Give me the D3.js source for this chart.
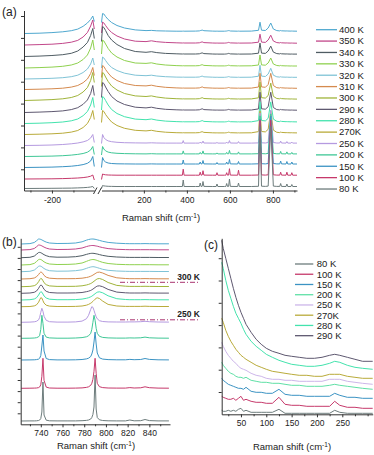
<!DOCTYPE html>
<html><head><meta charset="utf-8">
<script src="https://cdn.jsdelivr.net/npm/d3@7"></script>
<style>
body{margin:0;background:#fff}
svg{display:block}
text{font-family:"Liberation Sans",Arial,sans-serif;fill:#222}
</style>
</head><body>
<svg id="chart" width="374" height="455"></svg>
<script>
// ================= DATA =================
const temps  = ["400 K","350 K","340 K","330 K","320 K","310 K","300 K","290 K","280 K","270K","250 K","200 K","150 K","100 K","80 K"];
const colors = ["#4fa8cf","#c2478a","#4f5c63","#8fd14f","#7fc3d6","#d58a4e","#a0b43a","#5e5870","#43e3ad","#b9ab3a","#b59ae0","#3fc796","#3b93c3","#c6396b","#6d7c7c"];

// panel (a): anti-Stokes side and Stokes side (cm-1)
const aShiftL = [-330,-260,-200,-150,-110,-80,-55,-35,-20,-10,-3];
const aShiftR = [3,8,14,22,34,50,75,110,160,210,235,260,300,350,379,383,387,440,458,462,466,471,475,479,520,536,540,544,575,581,585,589,594,598,602,636,640,644,700,733,740,747,765,778,790,802,818,832,836,840,861,865,869,884,888,892,912];
const aOffsets = [157,145.5,134,122.5,111.5,101,90,78,67,56,45,34,23,11.5,2];
const aLeft = [
 [0,0.3,0.9,1.7,2.8,4.4,7.2,10.5,14,17.5,12],
 [0,0.4,0.8,1.6,2.8,4.6,8,12.5,19,25,16],
 [0,0.4,1,1.8,3.2,5.5,9.5,14,21,28,18],
 [0,0.4,0.9,1.7,3,5,8.5,13,20,28,18],
 [0,0.3,0.7,1.3,2.3,3.8,6.5,10,15,21,14],
 [0,0.3,0.7,1.3,2.4,4,6.8,10.5,16,22,14],
 [0,0.4,0.9,1.7,3,5,8.5,13,20,28,18],
 [0,0.4,0.9,1.6,2.9,4.8,8.2,12.5,19,27,17],
 [0,0.3,0.8,1.5,2.7,4.5,7.8,12,18.5,26,16],
 [0,0.3,0.7,1.3,2.4,4,7,11,17,24,15],
 [0,0.2,0.5,1,1.7,2.5,3.6,5,7.5,11,3],
 [0,0.2,0.4,0.8,1.4,2.1,3,4.3,6.5,10,2],
 [0,0.2,0.4,0.8,1.3,2,2.9,4.2,6.5,11,1],
 [0,0.1,0.2,0.4,0.7,1,1.4,2,2.8,4,-1],
 [0,0.1,0.2,0.3,0.4,0.6,0.8,1.1,1.5,2,0]
];
const aRight = [
 [11,20,19.5,17,14,11,8,5.5,3.6,2.9,3.1,2.7,2.5,2.3, 2.3,2.4,2.3,2.4,2.6,2.9,3.1,3.4,3.2,2.8,2.4, 2.3,2.4,2.3,2.3,2.4,2.5,2.7,2.9,2.8,2.5,2.3,2.4,2.3, 2.4,3.2,11.3,3.3,3,5.5,10.5,4.5,2.9, 2.6,3,2.7,2.5,2.6,2.5,2.4,2.5,2.4,2.3],
 [12,23,22,19.5,16,12.5,9,6,3.8,3.4,4.2,3.3,2.6,2.2, 2,2.1,2,2,2.2,2.5,2.8,3.1,2.8,2.4,2, 1.9,2,1.9,1.9,2,2.1,2.3,2.6,2.4,2.1,1.9,2,1.9, 2,2.8,10.8,2.9,2.6,5,9.8,4,2.4, 2.1,2.5,2.2,2,2.1,2,1.9,2,1.9,1.8],
 [15,30,29,26,21,16.5,12,8,5,4.2,4.8,3.9,3.1,2.7, 2.5,2.6,2.5,2.5,2.7,3,3.3,3.6,3.3,2.9,2.5, 2.4,2.5,2.4,2.4,2.5,2.6,2.8,3.1,2.9,2.6,2.4,2.5,2.4, 2.5,3.3,13.4,3.4,3.1,5.5,10.4,4.4,2.9, 2.6,3,2.7,2.5,2.6,2.5,2.4,2.5,2.4,2.4],
 [14,28,27,24,19.5,15,11,7.5,5,4.6,5.2,4,3,2.4, 2.2,2.3,2.2,2.2,2.4,2.7,3,3.3,3,2.6,2.2, 2.1,2.2,2.1,2.1,2.2,2.3,2.5,2.8,2.6,2.3,2.1,2.2,2.1, 2.2,3,13,3.1,2.8,5,10,4,2.5, 2.2,2.6,2.3,2.1,2.2,2.1,2,2.1,2,2],
 [11,22,21,18.5,15,11.5,8.5,5.8,3.8,3.3,3.8,3,2.3,1.9, 1.8,1.9,1.8,1.8,2,2.3,2.6,2.9,2.6,2.2,1.8, 1.7,1.8,1.7,1.7,1.8,1.9,2.1,2.4,2.2,1.9,1.7,1.8,1.7, 1.8,2.8,13.7,2.9,2.5,5,10.7,3.8,2.2, 1.9,2.3,2,1.8,1.9,1.8,1.7,1.8,1.7,1.7],
 [12,24,23,20,16.5,12.5,9,6,4,3.6,4.3,3.2,2.2,1.6, 1.4,1.5,1.4,1.4,1.6,1.9,2.2,2.6,2.3,1.8,1.4, 1.3,1.4,1.3,1.3,1.4,1.5,1.7,2,1.8,1.5,1.3,1.4,1.3, 1.4,2.5,16.2,2.6,2.2,5,16.2,4,1.8, 1.5,2,1.7,1.4,1.5,1.4,1.3,1.4,1.3,1.2],
 [14,28,27,23.5,19,14.5,10.5,7,4.6,4,4.6,3.5,2.4,1.8, 1.6,1.7,1.6,1.6,1.8,2.1,2.4,2.8,2.5,2,1.6, 1.5,1.6,1.5,1.5,1.6,1.7,1.9,2.2,2,1.7,1.5,1.6,1.5, 1.6,2.7,18.4,2.8,2.4,5,17.4,4.2,2, 1.7,2.2,1.9,1.6,1.7,1.6,1.5,1.6,1.5,1.4],
 [15,30,29,25.5,21,16,11.5,8,5.3,4.6,5.3,4.2,3.2,2.7, 2.5,2.6,2.5,2.5,2.7,3,3.3,3.7,3.4,2.9,2.5, 2.4,2.5,2.4,2.4,2.5,2.6,2.8,3.1,2.9,2.6,2.4,2.5,2.4, 2.5,3.6,20.3,3.7,3.3,5.8,20.3,5,2.9, 2.6,3.1,2.8,2.5,2.6,2.5,2.4,2.5,2.4,2.3],
 [13.5,27,26,23,18.5,14,10,6.8,4.4,3.8,4.5,3.4,2.4,1.9, 1.7,1.8,1.7,1.7,1.9,2.2,2.5,2.9,2.6,2.1,1.7, 1.6,1.7,1.6,1.6,1.7,1.8,2,2.3,2.1,1.8,1.6,1.7,1.6, 1.7,2.9,21.6,3,2.6,5.2,21.6,4.4,2.2, 1.9,2.4,2.1,1.8,1.9,1.8,1.7,1.8,1.7,1.6],
 [12,24,23,20,16.5,12.5,9,6.2,4.2,3.6,4.2,3.2,2.3,1.8, 1.7,1.8,1.7,1.7,1.9,2.2,2.5,2.8,2.5,2.1,1.7, 1.6,1.7,1.6,1.6,1.7,1.8,2,2.3,2.1,1.8,1.6,1.7,1.6, 1.7,2.9,23.6,3,2.6,5.2,23.6,4.4,2.2, 1.9,2.4,2.1,1.8,1.9,1.8,1.7,1.8,1.7,1.6],
 [2,11,8,6,4.6,3.8,3.2,2.8,2.6,2.5,2.7,2.5,2.4,2.4, 2.4,4.9,2.4,2.4,2.4,3.4,2.4,2.6,4.4,2.5,2.4, 2.4,3.2,2.4,2.4,2.4,3.4,2.4,2.5,4.9,2.5,2.4,3.9,2.4, 2.4,2.6,32.4,2.7,2.5,3,35.4,3,2.5, 2.5,4.4,2.5,2.4,3.9,2.4,2.4,3.4,2.4,2.4],
 [1.5,10,7.5,5.6,4.4,3.7,3.2,2.9,2.7,2.6,2.8,2.6,2.6,2.6, 2.6,5.6,2.6,2.6,2.6,4.1,2.6,2.8,5.6,2.7,2.6, 2.6,3.6,2.6,2.6,2.6,4.1,2.6,2.7,6.1,2.7,2.6,4.6,2.6, 2.6,2.8,40.6,2.9,2.7,3.1,42.6,3.1,2.7, 2.7,5.1,2.7,2.6,4.6,2.6,2.6,4.1,2.6,2.6],
 [0,10,7,5.5,4.5,4,3.7,3.6,3.5,3.5,3.6,3.5,3.5,3.5, 3.5,7.5,3.5,3.5,3.5,5.5,3.5,3.7,7,3.6,3.5, 3.5,5,3.5,3.5,3.5,5.5,3.5,3.6,8,3.6,3.5,6,3.5, 3.5,3.7,48.5,3.8,3.6,4,51.5,4,3.6, 3.6,6.5,3.6,3.5,6,3.5,3.5,5.5,3.5,3.5],
 [-0.5,5,4.5,4.2,4,3.9,3.8,3.8,3.8,3.8,3.8,3.8,3.8,3.8, 3.8,9.8,3.8,3.8,3.8,6.8,3.8,4,8.3,3.9,3.8, 3.8,6.3,3.8,3.8,3.8,6.3,3.8,3.9,10.3,3.9,3.8,8.8,3.8, 3.8,4,58.8,4.1,3.9,4.2,58.8,4.2,3.9, 3.9,6.8,3.9,3.8,6.8,3.8,3.8,6.3,3.8,3.8],
 [0,3,2.6,2.4,2.2,2.1,2,2,2,2,2,2,2,2, 2,8.5,2,2,2,5.5,2,2.2,7,2.1,2, 2,4.5,2,2,2,5,2,2.1,9.5,2.1,2,5.5,2, 2,2.2,62,2.3,2.1,2.4,62,2.4,2.1, 2.1,5,2.1,2,4.5,2,2,4,2,2]
];
const aTicksLeftMajor = [-200], aTicksLeftMinor = [-300,-100];
const aTicksRightMajor = [200,400,600,800], aTicksRightMinor = [100,300,500,700,900];

// panel (b)
const bShift = [722,730,734,736,738,739,740,741,742,743,745,748,755,765,772,778,782,784,786,787,788,789,790,791,792,794,797,802,810,818,822,826,832,836,840,848,858];
const bOffsets = [180.3,174.3,166.6,159.3,152.6,145.3,137.6,131,124.3,117.6,102,86,64.3,36,3.3];
const bInt = [
 [0,0.4,1.5,3.2,5,4.9,4.6,4.1,3.5,2.9,1.9,1,0.5,0.6, 1,2.2,3.8,4.5,4.9,5,5,4.9,4.7,4.5,4.2,3.6,2.7,1.6,0.8,0.4,0.3,0.3,0.3,0.4,0.3,0.2,0.2],
 [0,0.4,1.5,3.2,5,4.9,4.6,4.1,3.5,2.9,1.9,1,0.5,0.6, 1,2,3.4,4,4.4,4.5,4.5,4.4,4.2,4,3.8,3.2,2.4,1.4,0.7,0.4,0.3,0.3,0.3,0.3,0.3,0.2,0.2],
 [0,0.4,1.6,3.4,5.2,5.3,5,4.4,3.7,3,2,1,0.5,0.6, 1,2,3.3,3.9,4.3,4.4,4.4,4.3,4.1,3.9,3.7,3.1,2.3,1.4,0.7,0.4,0.3,0.3,0.3,0.3,0.3,0.2,0.2],
 [0,0.4,1.6,3.4,5.4,5.7,5.5,4.9,4,3.2,2,1,0.5,0.6, 1,2,3.6,4.5,5.2,5.4,5.5,5.4,5.2,4.9,4.5,3.7,2.6,1.5,0.7,0.4,0.3,0.3,0.3,0.3,0.3,0.2,0.2],
 [0,0.4,1.6,3.4,5.4,5.7,5.5,4.9,4,3.2,2,1,0.5,0.6, 1,1.9,3.3,4.1,4.7,4.9,5,4.9,4.7,4.4,4.1,3.4,2.4,1.4,0.7,0.4,0.3,0.3,0.3,0.3,0.3,0.2,0.2],
 [0,0.3,1,2.2,4.5,6,7,6.6,5.2,3.6,1.8,0.8,0.3,0.3, 0.4,0.8,1.5,2,2.8,3.3,3.9,4.6,5.3,6,6.6,6.9,6,3.6,1.2,0.5,0.3,0.3,0.3,0.4,0.3,0.2,0.2],
 [0,0.3,1,2.2,5,7,8.3,7.8,6,4,2,0.8,0.3,0.3, 0.4,0.9,1.7,2.3,3.2,3.8,4.6,5.4,6.3,7.1,7.8,8.2,7.2,4.2,1.3,0.5,0.3,0.3,0.3,0.4,0.3,0.2,0.2],
 [0,0.3,1,2.2,5,7,8.3,7.8,6,4,2,0.8,0.3,0.3, 0.4,0.8,1.6,2.1,2.9,3.5,4.2,5,5.8,6.6,7.2,7.5,6.6,3.9,1.2,0.5,0.3,0.3,0.3,0.4,0.3,0.2,0.2],
 [0,0.3,1,2.2,5,7,8.3,7.8,6,4,2,0.8,0.3,0.3, 0.4,0.9,1.7,2.3,3.2,3.8,4.6,5.4,6.3,7.1,7.8,8.2,7.2,4.2,1.3,0.5,0.3,0.3,0.3,0.4,0.3,0.2,0.2],
 [0,0.2,0.8,1.8,4.5,7,9,8.6,6,3.6,1.5,0.6,0.2,0.2, 0.3,0.7,1.5,2.3,3.5,4.3,5.3,6.4,7.5,8.4,8.9,8.2,5.6,2.3,0.7,0.3,0.3,0.3,0.3,0.5,0.3,0.2,0.2],
 [0,0.2,0.5,1,2.5,5,10,14,11,6,2,0.6,0.2,0.2, 0.4,1.2,3.5,7,13,15.6,15,12,8.5,5.5,3.5,1.6,0.8,0.4,0.3,0.3,0.4,0.4,0.6,1,0.6,0.3,0.2],
 [0,0.1,0.3,0.6,1.5,3,9,23,15,5,1.2,0.4,0.1,0.1, 0.3,0.7,1.5,2.5,5,9,16,23,18,10,5,2,0.9,0.4,0.2,0.2,0.4,0.3,0.5,1.2,0.5,0.2,0.1],
 [0,0.1,0.2,0.4,0.9,1.8,4.5,14,25,9,1.5,0.4,0.1,0.1, 0.2,0.5,1.1,1.8,3.5,6,10,18,28,16,7,2.2,0.9,0.4,0.2,0.2,0.6,0.3,0.5,1.5,0.6,0.2,0.1],
 [0,0.1,0.2,0.3,0.7,1.4,3.5,12,30,8,1.2,0.3,0.1,0.1, 0.2,0.4,0.9,1.5,3,5,9,17,30,15,5,1.6,0.7,0.3,0.2,0.2,0.7,0.3,0.5,1.5,0.6,0.2,0.1],
 [0,0.1,0.1,0.2,0.5,1,2.5,9,39,6,0.8,0.2,0.1,0.1, 0.1,0.3,0.6,1,2,3.5,6.5,14,46,12,3.5,1.2,0.5,0.2,0.1,0.1,1,0.2,0.3,1.5,0.4,0.1,0.1]
];
const bTicksMajor = [740,760,780,800,820,840], bTicksMinor = [730,750,770,790,810,830,850];
const bMarkers = ["300 K","250 K"];
const bMarkerLevels = [142,104.5];

// panel (c)
const cTemps  = ["80 K","100 K","150 K","200 K","250 K","270K","280 K","290 K"];
const cColors = ["#6d7c7c","#c6396b","#3b93c3","#5fe0a6","#cdb6ea","#b9ab3a","#43e3ad","#5e5870"];
const cShift = [12,15,20,25,30,35,40,45,50,55,60,70,80,90,100,112,125,137,150,165,180,195,210,225,235,245,260,275,290,310];
const cInt = [
 [4,3,3,4,3,4,3,5,6,3,4,2,2,2,2,2,5,1,1,1,1,1,1,1,4,2,1,1,1,1],
 [18,17,16,15,15,16,14,16,18,14,15,13,12,12,11,11,17,10,9,9,8,8,8,8,13,9,7,7,6,6],
 [36,34,32,30,29,28,27,26,26,25,27,23,22,22,21,21,25,20,19,19,18,18,18,18,21,19,17,17,16,16],
 [52,49,46,43,41,40,38,37,37,36,37,34,33,32,32,31,31,30,29,29,28,28,28,29,30,29,28,27,26,25],
 [72,68,63,59,56,53,51,48,46,45,44,41,39,38,36,35,35,34,34,33,33,33,33,35,35,35,33,32,31,30],
 [96,92,84,78,73,69,65,62,59,57,55,52,49,47,45,43,42,41,40,39,39,38,38,40,40,40,38,37,36,36],
 [152,146,134,124,116,108,101,96,91,85,80,73,68,64,60,57,54,52,50,49,48,48,49,51,53,52,49,47,46,45],
 [174,166,156,146,136,126,117,109,102,96,90,82,75,70,66,63,61,59,58,57,56,56,57,59,60,59,57,55,53,53]
];
const cTicksMajor = [50,100,150,200,250], cTicksMinor = [25,75,125,175,225,275,300];

// ================= DRAW =================
const svg = d3.select("#chart");
const AX = "#333";
function styleAxis(g, fs){
  g.attr("font-family",null).attr("font-size",null);
  g.selectAll("path,line").attr("stroke",AX).attr("stroke-width",1);
  g.selectAll("text").style("font-size",fs+"px").attr("fill","#222");
}
function bottomAxis(scale, y, major, minor, fmt, domain){
  const g1 = svg.append("g").attr("transform",`translate(0,${y})`)
    .call(d3.axisBottom(scale).tickValues(minor).tickSize(2).tickSizeOuter(0).tickFormat(""));
  g1.select(".domain").remove(); styleAxis(g1,8.5);
  const g2 = svg.append("g").attr("transform",`translate(0,${y})`)
    .call(d3.axisBottom(scale).tickValues(major).tickSize(3).tickPadding(3).tickSizeOuter(0).tickFormat(fmt));
  if(!domain) g2.select(".domain").remove();
  styleAxis(g2,8.5);
}
function leftAxis(scale, x, vals){
  const g = svg.append("g").attr("transform",`translate(${x},0)`)
    .call(d3.axisLeft(scale).tickValues(vals).tickSize(3).tickSizeOuter(0).tickFormat(""));
  styleAxis(g,8.5);
}
function title(txt, x, y, rot, size, weight){
  const t = svg.append("text").attr("text-anchor","middle").style("font-size",(size||9.5)+"px");
  if(weight) t.style("font-weight",weight);
  if(rot) t.attr("transform",`translate(${x},${y}) rotate(-90)`); else t.attr("x",x).attr("y",y);
  return t;
}
function xTitle(x,y){
  const t = title("",x,y);
  t.append("tspan").text("Raman shift (cm");
  t.append("tspan").text("-1").attr("dy",-3.5).style("font-size","6.5px");
  t.append("tspan").text(")").attr("dy",3.5);
}

// ---- panel (a)
const axL = d3.scaleLinear().domain([-330,-3]).range([24,94.3]);
const axR = d3.scaleLinear().domain([3,912]).range([101.5,297]);
const ay  = d3.scaleLinear().domain([0,180]).range([190.5,10.5]);
temps.forEach((t,i)=>{
  const off = aOffsets[i];
  const lineL = d3.line().x((d,j)=>axL(aShiftL[j])).y(d=>ay(d+off));
  const lineR = d3.line().x((d,j)=>axR(aShiftR[j])).y(d=>ay(d+off));
  svg.append("path").attr("d",lineL(aLeft[i])).attr("fill","none").attr("stroke",colors[i]).attr("stroke-width",1);
  svg.append("path").attr("d",lineR(aRight[i])).attr("fill","none").attr("stroke",colors[i]).attr("stroke-width",1);
});
leftAxis(ay, 24, d3.range(21.2,180,21.9));
bottomAxis(axL, 190.5, aTicksLeftMajor, aTicksLeftMinor, d=>d, true);
bottomAxis(axR, 190.5, aTicksRightMajor, aTicksRightMinor, d=>d, true);
// axis break marks
[[93.5,0],[98,0]].forEach(([x])=>{
  svg.append("line").attr("x1",x).attr("y1",194).attr("x2",x+3.5).attr("y2",187.5).attr("stroke",AX).attr("stroke-width",1);
});
svg.append("text").attr("x",2).attr("y",16).style("font-size","12px").text("(a)");
title("Raman intensity (arb. units)",13,92,true);
xTitle(161,221);
// legend (a)
temps.forEach((t,i)=>{
  const y = 29.7 + i*11.38;
  svg.append("line").attr("x1",316).attr("x2",337).attr("y1",y).attr("y2",y).attr("stroke",colors[i]).attr("stroke-width",1.3);
  svg.append("text").attr("x",339).attr("y",y).attr("dy","0.35em").style("font-size","9.5px").text(t);
});

// ---- panel (b)
const bx = d3.scaleLinear().domain([721.5,859]).range([20.7,170]);
const by = d3.scaleLinear().domain([0,186]).range([424.3,238.3]);
temps.forEach((t,i)=>{
  const off = bOffsets[i];
  const ln = d3.line().x((d,j)=>bx(bShift[j])).y(d=>by(d+off));
  svg.append("path").attr("d",ln(bInt[i])).attr("fill","none").attr("stroke",colors[i]).attr("stroke-width",1);
});
leftAxis(by, 20.7, d3.range(11,186,11.1));
bottomAxis(bx, 424.3, bTicksMajor, bTicksMinor, d=>d, true);
svg.append("text").attr("x",2).attr("y",246).style("font-size","12px").text("(b)");
title("Raman intensity (arb. units)",9,332,true);
xTitle(96,449);
// temperature markers
bMarkers.forEach((m,i)=>{
  const y = by(bMarkerLevels[i]);
  svg.append("line").attr("x1",120).attr("x2",200).attr("y1",y).attr("y2",y)
    .attr("stroke","#a8336e").attr("stroke-width",1).attr("stroke-dasharray","5,2,1,2");
  svg.append("text").attr("x",200).attr("y",y-2.5).attr("text-anchor","end")
    .style("font-size","8.5px").style("font-weight","bold").text(m);
});

// ---- panel (c)
const cx = d3.scaleLinear().domain([12,310]).range([221.7,372.7]);
const cy = d3.scaleLinear().domain([0,176]).range([414.3,238.3]);
cTemps.forEach((t,i)=>{
  const ln = d3.line().x((d,j)=>cx(cShift[j])).y(d=>cy(d));
  svg.append("path").attr("d",ln(cInt[i])).attr("fill","none").attr("stroke",cColors[i]).attr("stroke-width",1);
});
leftAxis(cy, 221.7, d3.range(22.3,176,22.3));
bottomAxis(cx, 414.3, cTicksMajor, cTicksMinor, d=>d, true);
svg.append("text").attr("x",204).attr("y",249).style("font-size","12px").text("(c)");
title("Raman intensity (arb. units)",214,322,true);
xTitle(292,450);
cTemps.forEach((t,i)=>{
  const y = 264 + i*10.24;
  svg.append("line").attr("x1",295).attr("x2",313.3).attr("y1",y).attr("y2",y).attr("stroke",cColors[i]).attr("stroke-width",1.3);
  svg.append("text").attr("x",316.7).attr("y",y).attr("dy","0.35em").style("font-size","9.5px").text(t);
});
</script>
</body></html>
